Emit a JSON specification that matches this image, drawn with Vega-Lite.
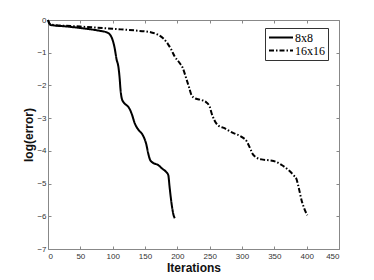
{
  "$schema": "https://vega.github.io/schema/vega-lite/v6.json",
  "width": 291,
  "height": 229,
  "autosize": {"type": "none"},
  "padding": {"left": 48, "top": 20, "right": 35, "bottom": 31},
  "background": "white",
  "config": {
    "view": {"stroke": "#888888", "strokeWidth": 1},
    "axis": {
      "domain": false,
      "grid": false,
      "tickSize": -3,
      "tickColor": "#888888",
      "labelFont": "Liberation Sans",
      "labelFontSize": 8,
      "labelColor": "#333333",
      "titleFont": "Liberation Sans",
      "titleFontSize": 12,
      "titleFontWeight": "bold",
      "titleColor": "#111111"
    }
  },
  "resolve": {"axis": {"x": "independent", "y": "independent"}},
  "data": {
    "values": [
      {"s": "8x8", "x": 0, "y": 0},
      {"s": "8x8", "x": 2, "y": -0.1},
      {"s": "8x8", "x": 4, "y": -0.15},
      {"s": "8x8", "x": 30, "y": -0.2},
      {"s": "8x8", "x": 60, "y": -0.27},
      {"s": "8x8", "x": 80, "y": -0.33},
      {"s": "8x8", "x": 91, "y": -0.38},
      {"s": "8x8", "x": 96, "y": -0.45},
      {"s": "8x8", "x": 99, "y": -0.56},
      {"s": "8x8", "x": 103, "y": -0.85},
      {"s": "8x8", "x": 106, "y": -1.2},
      {"s": "8x8", "x": 109, "y": -1.45},
      {"s": "8x8", "x": 111, "y": -1.83},
      {"s": "8x8", "x": 112, "y": -2.1},
      {"s": "8x8", "x": 114, "y": -2.39},
      {"s": "8x8", "x": 117, "y": -2.52},
      {"s": "8x8", "x": 120, "y": -2.58},
      {"s": "8x8", "x": 124, "y": -2.65},
      {"s": "8x8", "x": 127, "y": -2.75},
      {"s": "8x8", "x": 130, "y": -2.9},
      {"s": "8x8", "x": 134, "y": -3.15},
      {"s": "8x8", "x": 140, "y": -3.36},
      {"s": "8x8", "x": 146, "y": -3.5},
      {"s": "8x8", "x": 150, "y": -3.67},
      {"s": "8x8", "x": 152, "y": -3.8},
      {"s": "8x8", "x": 155, "y": -4.08},
      {"s": "8x8", "x": 158, "y": -4.28},
      {"s": "8x8", "x": 162, "y": -4.36},
      {"s": "8x8", "x": 170, "y": -4.43},
      {"s": "8x8", "x": 177, "y": -4.55},
      {"s": "8x8", "x": 183, "y": -4.65},
      {"s": "8x8", "x": 186, "y": -4.74},
      {"s": "8x8", "x": 188, "y": -5.1},
      {"s": "8x8", "x": 191, "y": -5.6},
      {"s": "8x8", "x": 194, "y": -5.95},
      {"s": "8x8", "x": 196, "y": -6.06},
      {"s": "16x16", "x": 0, "y": 0},
      {"s": "16x16", "x": 2, "y": -0.1},
      {"s": "16x16", "x": 4, "y": -0.14},
      {"s": "16x16", "x": 50, "y": -0.2},
      {"s": "16x16", "x": 100, "y": -0.27},
      {"s": "16x16", "x": 140, "y": -0.33},
      {"s": "16x16", "x": 160, "y": -0.38},
      {"s": "16x16", "x": 170, "y": -0.45},
      {"s": "16x16", "x": 178, "y": -0.56},
      {"s": "16x16", "x": 185, "y": -0.72},
      {"s": "16x16", "x": 190, "y": -0.88},
      {"s": "16x16", "x": 196, "y": -1.12},
      {"s": "16x16", "x": 203, "y": -1.3},
      {"s": "16x16", "x": 208, "y": -1.45},
      {"s": "16x16", "x": 214, "y": -1.8},
      {"s": "16x16", "x": 218, "y": -2.05},
      {"s": "16x16", "x": 222, "y": -2.3},
      {"s": "16x16", "x": 228, "y": -2.4},
      {"s": "16x16", "x": 238, "y": -2.45},
      {"s": "16x16", "x": 245, "y": -2.52},
      {"s": "16x16", "x": 250, "y": -2.65},
      {"s": "16x16", "x": 253, "y": -2.85},
      {"s": "16x16", "x": 257, "y": -3.05},
      {"s": "16x16", "x": 263, "y": -3.22},
      {"s": "16x16", "x": 272, "y": -3.3},
      {"s": "16x16", "x": 286, "y": -3.45},
      {"s": "16x16", "x": 300, "y": -3.58},
      {"s": "16x16", "x": 307, "y": -3.7},
      {"s": "16x16", "x": 312, "y": -3.9},
      {"s": "16x16", "x": 316, "y": -4.08},
      {"s": "16x16", "x": 322, "y": -4.2},
      {"s": "16x16", "x": 330, "y": -4.26},
      {"s": "16x16", "x": 342, "y": -4.29},
      {"s": "16x16", "x": 352, "y": -4.33},
      {"s": "16x16", "x": 362, "y": -4.44},
      {"s": "16x16", "x": 372, "y": -4.59},
      {"s": "16x16", "x": 380, "y": -4.75},
      {"s": "16x16", "x": 384, "y": -4.85},
      {"s": "16x16", "x": 388, "y": -5.15},
      {"s": "16x16", "x": 392, "y": -5.5},
      {"s": "16x16", "x": 396, "y": -5.75},
      {"s": "16x16", "x": 401, "y": -5.97}
    ]
  },
  "layer": [
    {
      "mark": {"type": "line", "strokeWidth": 2, "color": "black", "interpolate": "monotone"},
      "encoding": {
        "x": {
          "field": "x", "type": "quantitative",
          "scale": {"domain": [0, 450], "nice": false},
          "axis": {"orient": "bottom", "values": [0, 50, 100, 150, 200, 250, 300, 350, 400, 450], "title": "Iterations", "labelPadding": 6, "titlePadding": 2}
        },
        "y": {
          "field": "y", "type": "quantitative",
          "scale": {"domain": [-7, 0], "nice": false},
          "axis": {"orient": "left", "values": [0, -1, -2, -3, -4, -5, -6, -7], "title": "log(error)", "labelPadding": 5, "titlePadding": 1}
        },
        "strokeDash": {
          "field": "s", "type": "nominal",
          "scale": {"domain": ["8x8", "16x16"], "range": [[1, 0], [5, 2, 1.5, 2]]},
          "legend": {
            "title": null,
            "orient": "none",
            "legendX": 217,
            "legendY": 8,
            "strokeColor": "#333333",
            "fillColor": "white",
            "padding": 3,
            "symbolType": "stroke",
            "symbolSize": 576,
            "symbolStrokeWidth": 2,
            "symbolStrokeColor": "black",
            "clipHeight": 13,
            "labelFont": "Liberation Serif",
            "labelFontSize": 12,
            "labelColor": "black",
            "labelOffset": 1,
            "rowPadding": 0
          }
        }
      }
    },
    {
      "mark": {"type": "line", "opacity": 0},
      "encoding": {
        "x": {"field": "x", "type": "quantitative", "axis": {"orient": "top", "labels": false, "title": null, "values": [0, 50, 100, 150, 200, 250, 300, 350, 400, 450]}},
        "y": {"field": "y", "type": "quantitative", "axis": {"orient": "right", "labels": false, "title": null, "values": [0, -1, -2, -3, -4, -5, -6, -7]}},
        "detail": {"field": "s"}
      }
    }
  ]
}
